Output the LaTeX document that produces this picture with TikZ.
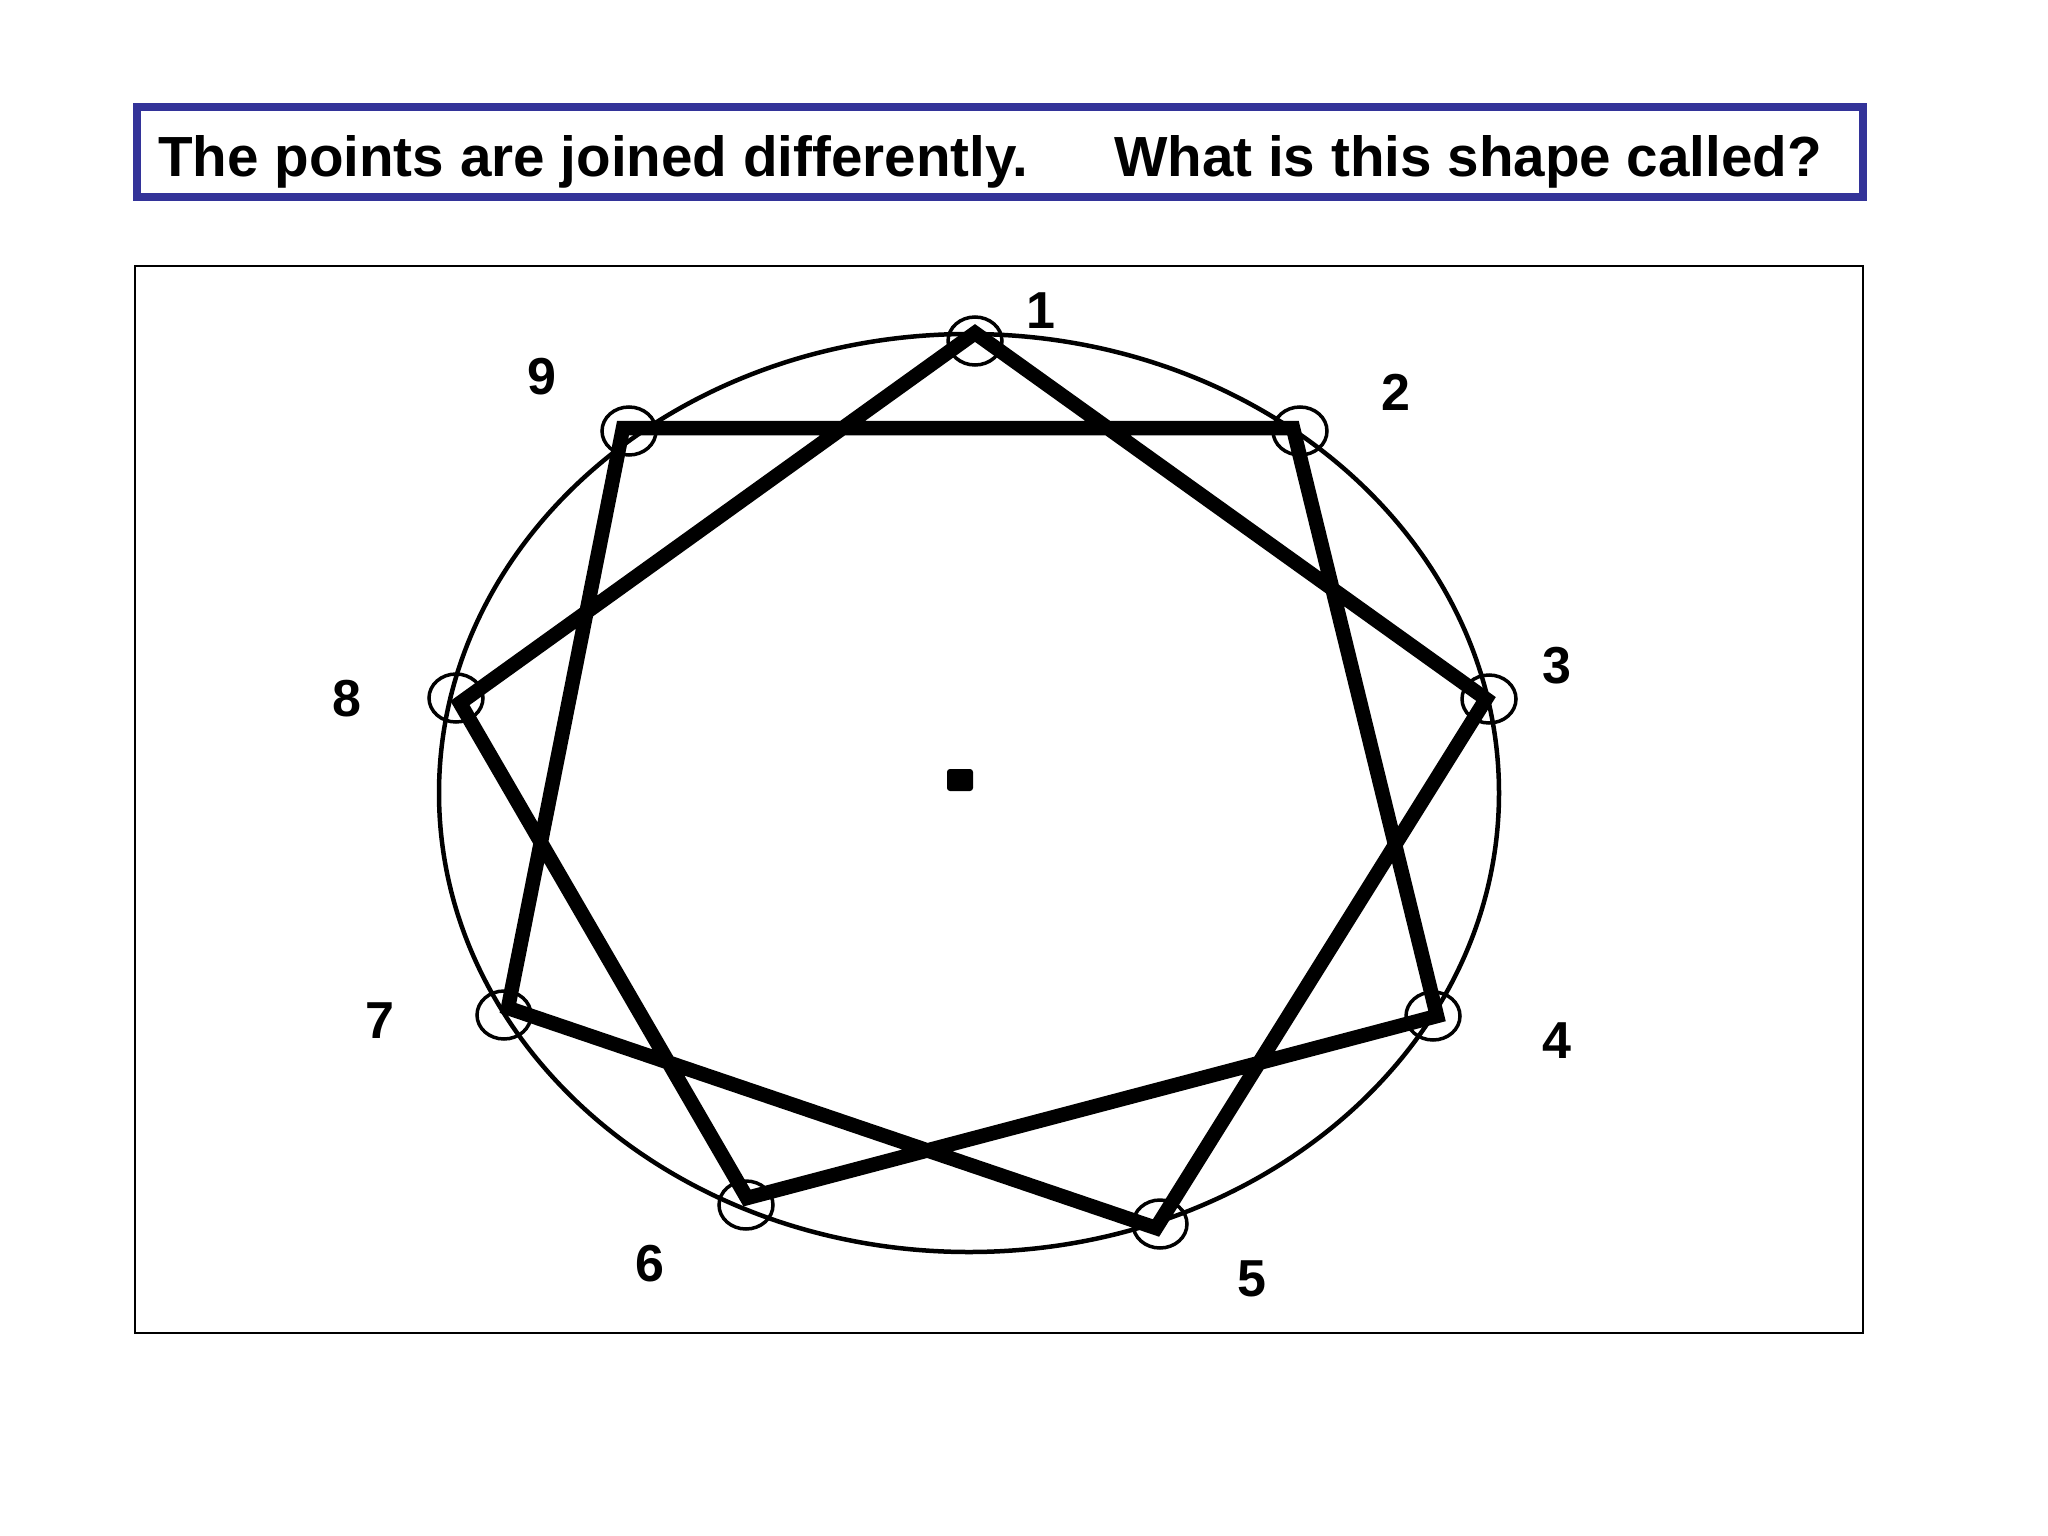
\documentclass[tikz,border=0pt]{standalone}
\usepackage{fontspec}
\setmainfont{Liberation Sans}
\definecolor{titleblue}{HTML}{333399}
\begin{document}
\begin{tikzpicture}[x=1pt,y=-1pt,
  titlefont/.style={font=\fontsize{56.6}{60}\selectfont\bfseries, inner sep=0pt},
  numlabel/.style={font=\fontsize{52}{56}\selectfont\bfseries, inner sep=0pt},
  starline/.style={line width=14.5pt, line join=miter},
  marker/.style={draw, line width=3.5pt},
]
\useasboundingbox (0,0) rectangle (2048,1536);
\fill[white] (0,0) rectangle (2048,1536);
% title box
\draw[titleblue, line width=8pt] (137,107) rectangle (1863,196.5);
\node[titlefont, anchor=base west] (t1) at (158,176) {The points are joined differently.};
\node[titlefont, anchor=base west] (t2) at (1114,176) {What is this shape called?};
% frame
\draw[line width=2pt] (135,266) rectangle (1863,1333);
% big ellipse
\draw[line width=4.5pt] (969,793) ellipse [x radius=530pt, y radius=459pt];
% center dot
\fill[rounded corners=3pt] (947,769) rectangle (973,791);
% vertices
\coordinate (p1) at (975,333);
\coordinate (p2) at (1293,428);
\coordinate (p3) at (1486,699);
\coordinate (p4) at (1437,1016);
\coordinate (p5) at (1156,1228);
\coordinate (p6) at (747,1198);
\coordinate (p7) at (508,1008);
\coordinate (p8) at (460,703);
\coordinate (p9) at (623,428);
% small circles
\foreach \cx/\cy in {975/341,1300/431,1489/699,1433/1016,1160/1224,746/1205,504/1015,456/698,629/431}
  \draw[marker] (\cx,\cy) ellipse [x radius=27pt, y radius=24pt];
% star {9/2}
\draw[starline] (p1) -- (p3) -- (p5) -- (p7) -- (p9) -- (p2) -- (p4) -- (p6) -- (p8) -- cycle;
% labels
\node[numlabel] (l1) at (1041,311) {1};
\node[numlabel] (l2) at (1396,392) {2};
\node[numlabel] (l3) at (1557,666) {3};
\node[numlabel] (l4) at (1557,1041) {4};
\node[numlabel] (l5) at (1252,1279) {5};
\node[numlabel] (l6) at (650,1264) {6};
\node[numlabel] (l7) at (380,1021) {7};
\node[numlabel] (l8) at (347,699) {8};
\node[numlabel] (l9) at (542,377) {9};
\end{tikzpicture}
\end{document}
